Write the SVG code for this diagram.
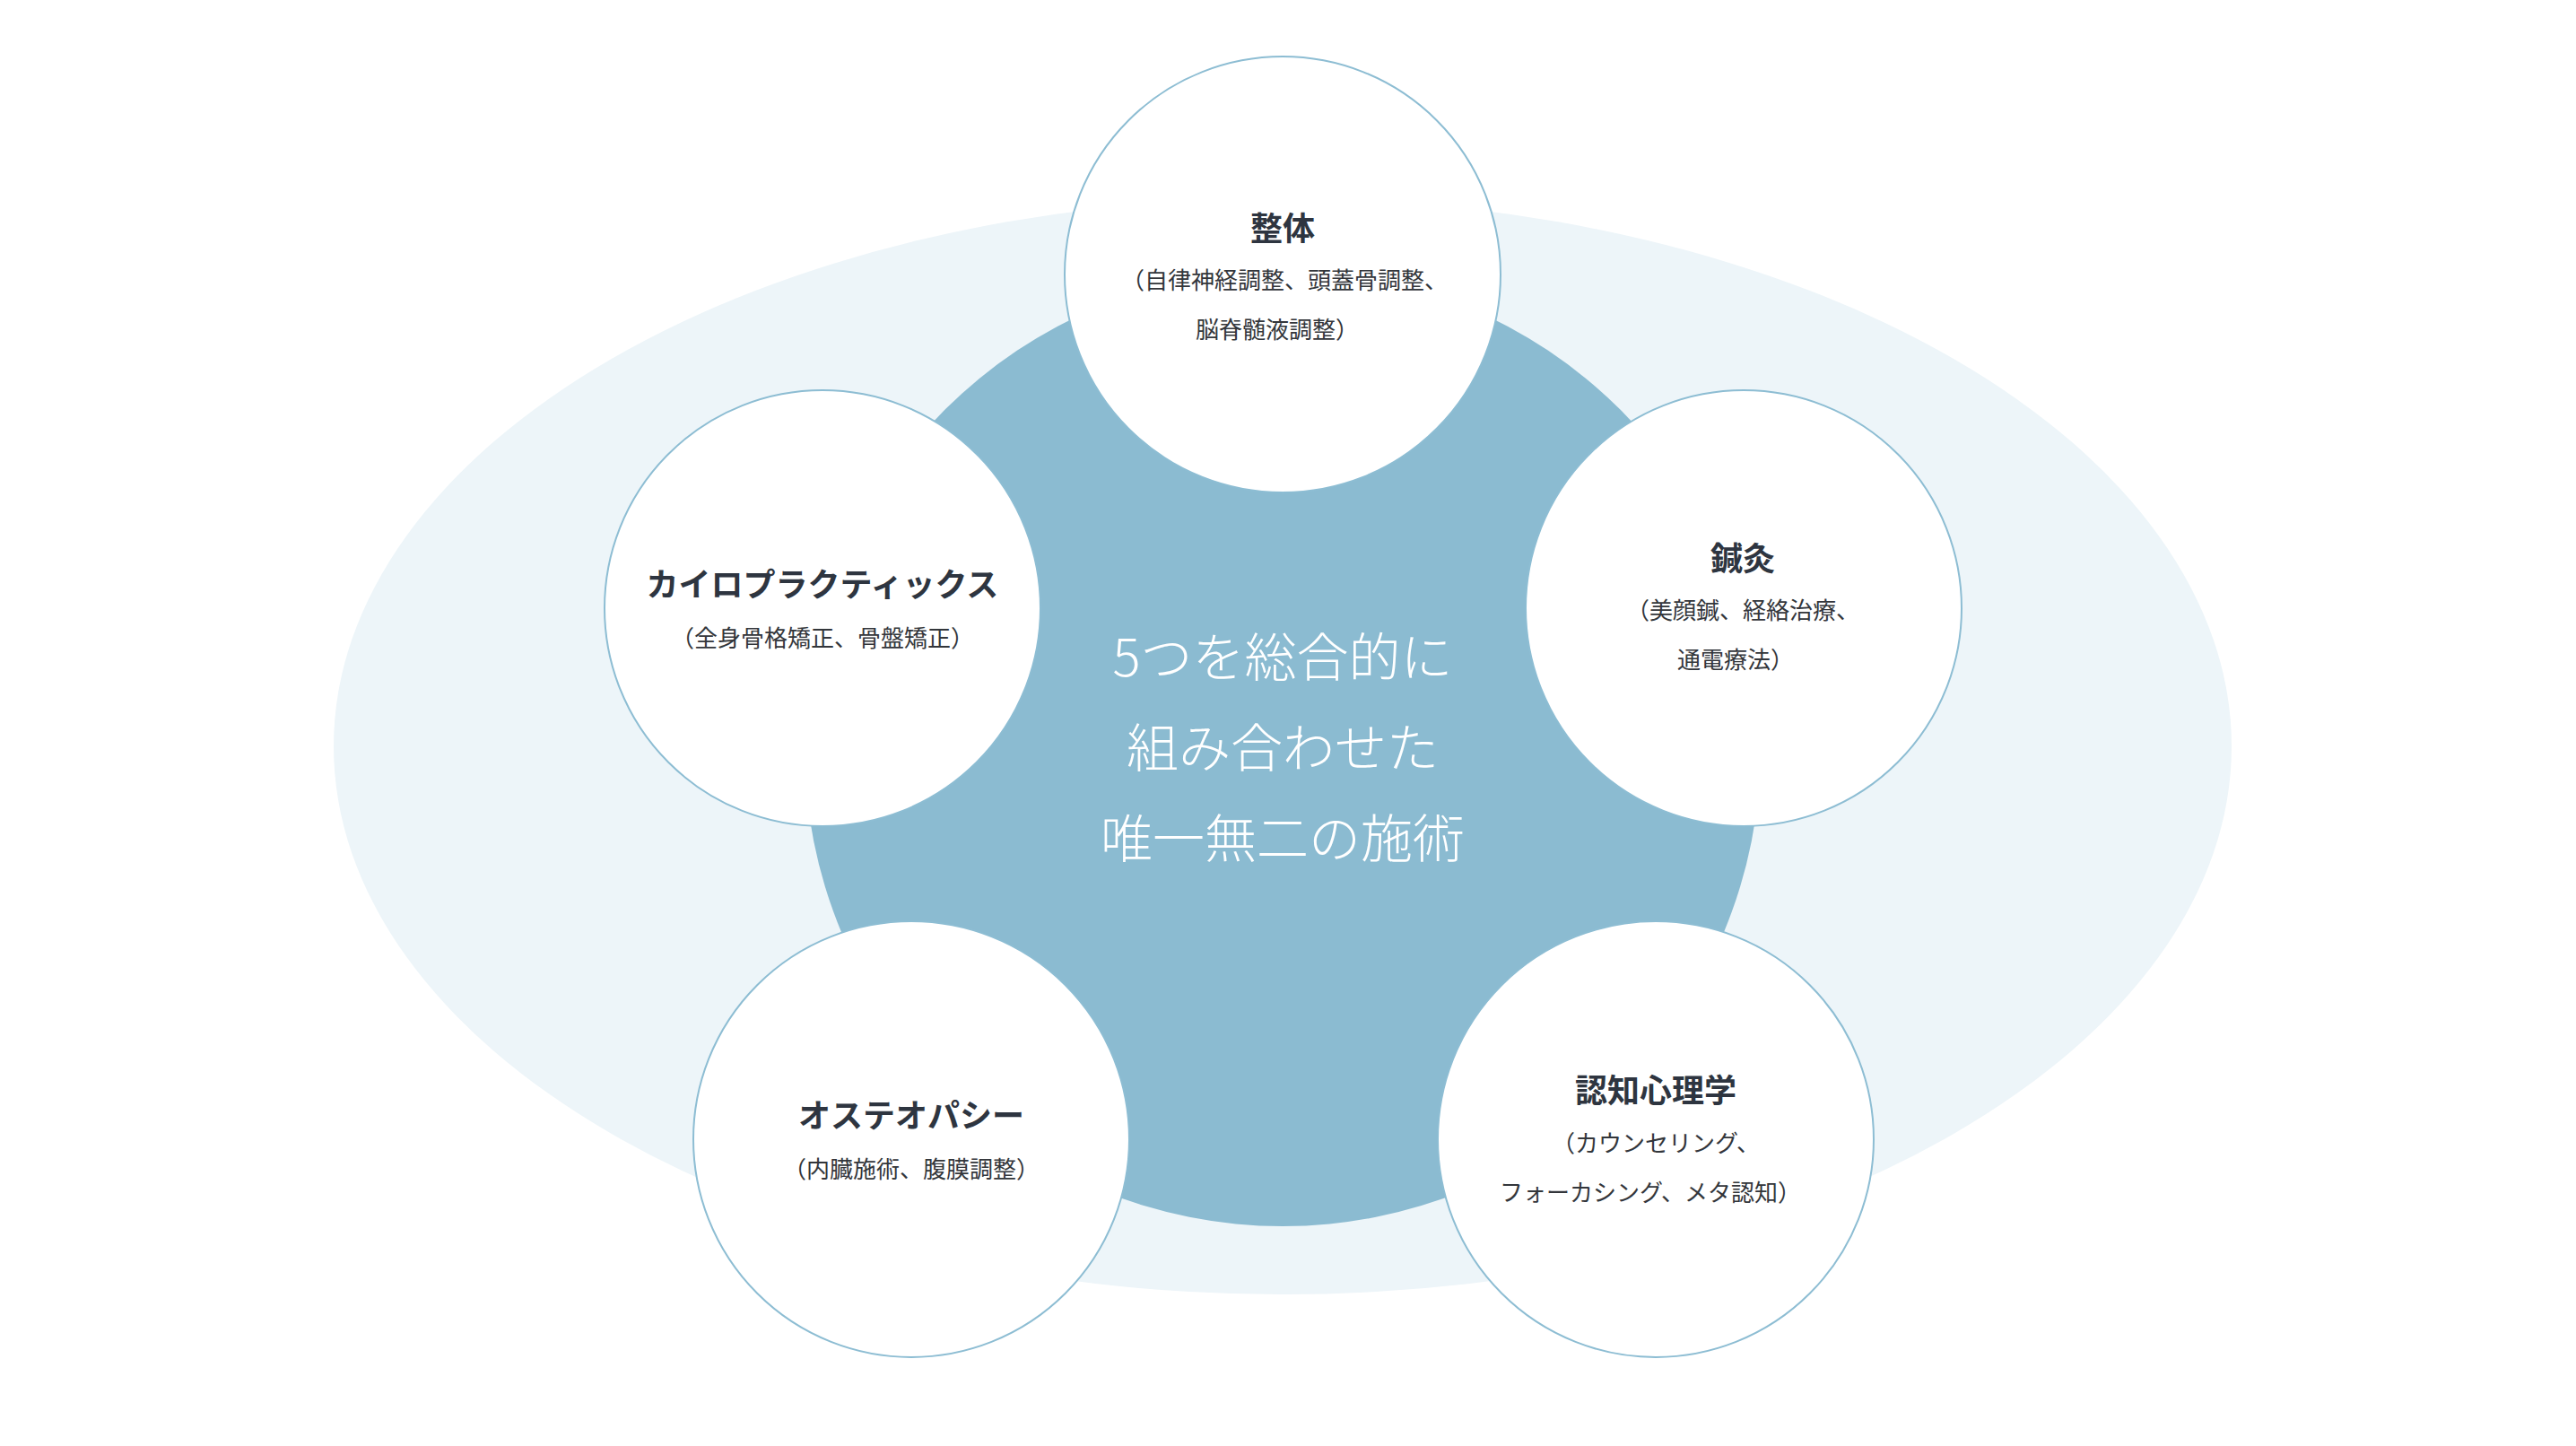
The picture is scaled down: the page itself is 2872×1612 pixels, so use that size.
<svg xmlns="http://www.w3.org/2000/svg" width="2872" height="1612" viewBox="0 0 2872 1612">
<style>
.node circle{fill:#ffffff;stroke:#8dbdd3;stroke-width:2}
.t{font-family:"Noto Sans CJK JP","Noto Sans CJK SC",sans-serif;font-size:36px;font-weight:700;fill:#2e3540;text-anchor:middle}
.s{font-family:"Noto Sans CJK JP","Noto Sans CJK SC",sans-serif;font-size:26px;font-weight:400;fill:#33363b;text-anchor:middle}
.c{font-family:"Noto Sans CJK JP","Noto Sans CJK SC",sans-serif;font-size:58px;font-weight:300;fill:#ffffff;text-anchor:middle}
</style>
<rect width="2872" height="1612" fill="#ffffff"/>
<g id="background">
<ellipse cx="1430" cy="832" rx="1058" ry="611" fill="#edf5f9"/>
</g>
<g id="connectors"></g>
<g id="center">
<circle cx="1430" cy="834" r="533" fill="#8bbbd1"/>
<text class="c" x="1430" y="754">5つを総合的に</text>
<text class="c" x="1430" y="855">組み合わせた</text>
<text class="c" x="1430" y="956">唯一無二の施術</text>
</g>
<g id="seitai" class="node">
<circle cx="1430" cy="306" r="243"/>
<text class="t" x="1430" y="268">整体</text>
<text class="s" x="1432" y="322">（自律神経調整、頭蓋骨調整、</text>
<text class="s" x="1424" y="377">脳脊髄液調整）</text>
</g>
<g id="chiro" class="node">
<circle cx="917" cy="678" r="243"/>
<text class="t" x="917" y="665">カイロプラクティックス</text>
<text class="s" x="917" y="721">（全身骨格矯正、骨盤矯正）</text>
</g>
<g id="shinkyu" class="node">
<circle cx="1944" cy="678" r="243"/>
<text class="t" x="1943" y="636">鍼灸</text>
<text class="s" x="1943" y="690">（美顔鍼、経絡治療、</text>
<text class="s" x="1935" y="745">通電療法）</text>
</g>
<g id="osteo" class="node">
<circle cx="1016" cy="1270" r="243"/>
<text class="t" x="1016" y="1257">オステオパシー</text>
<text class="s" x="1016" y="1313">（内臓施術、腹膜調整）</text>
</g>
<g id="ninchi" class="node">
<circle cx="1846" cy="1270" r="243"/>
<text class="t" x="1846" y="1229">認知心理学</text>
<text class="s" x="1846" y="1284">（カウンセリング、</text>
<text class="s" x="1840" y="1339">フォーカシング、メタ認知）</text>
</g>
</svg>
